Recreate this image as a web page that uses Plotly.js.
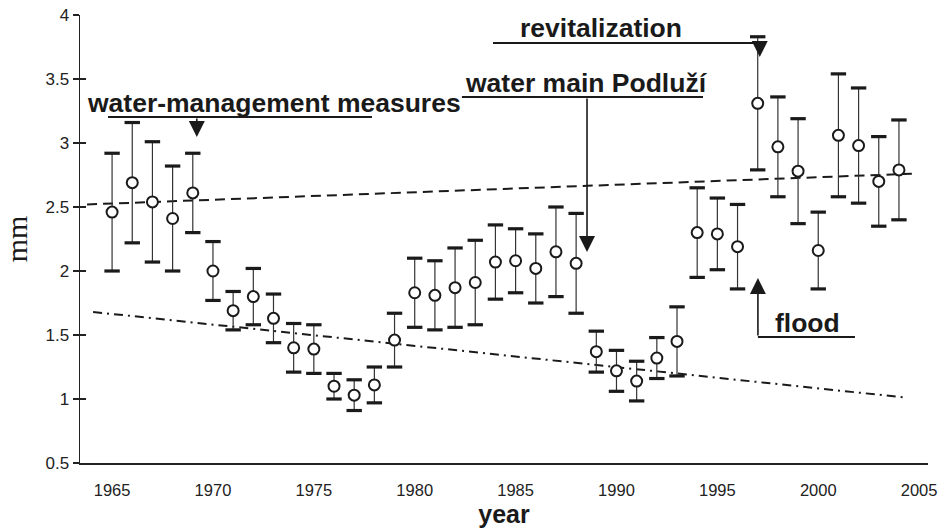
<!DOCTYPE html>
<html>
<head>
<meta charset="utf-8">
<script src="https://cdn.plot.ly/plotly-3.0.1.min.js"></script>
<style>html,body{margin:0;padding:0;background:#fff;}#chart{width:940px;height:530px;}</style>
</head>
<body>
<div id="chart"></div>
<script>
// ---- data ----
const years = [1965,1966,1967,1968,1969,1970,1971,1972,1973,1974,
               1975,1976,1977,1978,1979,1980,1981,1982,1983,1984,
               1985,1986,1987,1988,1989,1990,1991,1992,1993,1994,
               1995,1996,1997,1998,1999,2000,2001,2002,2003,2004];
const meanMM = [2.46,2.69,2.54,2.41,2.61,2.00,1.69,1.80,1.63,1.40,
                1.39,1.10,1.03,1.11,1.46,1.83,1.81,1.87,1.91,2.07,
                2.08,2.02,2.15,2.06,1.37,1.22,1.14,1.32,1.45,2.30,
                2.29,2.19,3.31,2.97,2.78,2.16,3.06,2.98,2.70,2.79];
const errMM  = [0.46,0.47,0.47,0.41,0.31,0.23,0.15,0.22,0.19,0.19,
                0.19,0.10,0.12,0.14,0.21,0.27,0.27,0.31,0.33,0.29,
                0.25,0.27,0.35,0.39,0.16,0.16,0.155,0.16,0.27,0.35,
                0.28,0.33,0.52,0.39,0.41,0.30,0.48,0.45,0.35,0.39];
// trend lines (end points)
const trendUpperX = [1963.76, 2004.64];
const trendUpperY = [2.52, 2.76];
const trendLowerX = [1964.06, 2004.4];
const trendLowerY = [1.68, 1.01];
// ticks
const xTickVals = [1965,1970,1975,1980,1985,1990,1995,2000,2005];
const yTickVals = [0.5,1,1.5,2,2.5,3,3.5,4];
const yTickText = ['0.5','1','1.5','2','2.5','3','3.5','4'];
// annotation texts
const labelMeasures = 'water-management measures';
const labelPodluzi = 'water main Podluží';
const labelRevital = 'revitalization';
const labelFlood = 'flood';

// ---- build figure ----
const ink = '#1a1a1a';
const capX = years.concat(years);
const capY = meanMM.map((v,i)=>v+errMM[i]).concat(meanMM.map((v,i)=>v-errMM[i]));

const traces = [
  {x: trendUpperX, y: trendUpperY, mode:'lines', line:{color:ink, width:2, dash:'10px,6px'}, hoverinfo:'skip', showlegend:false},
  {x: trendLowerX, y: trendLowerY, mode:'lines', line:{color:ink, width:2, dash:'9px,5px,2px,5px'}, hoverinfo:'skip', showlegend:false},
  {x: years, y: meanMM, mode:'markers',
   marker:{symbol:'circle', size:11, color:'#ffffff', line:{color:ink, width:2}},
   error_y:{type:'data', array: errMM, visible:true, thickness:1.2, width:0, color:'#333'},
   showlegend:false},
  {x: capX, y: capY, mode:'markers', yaxis:'y2',
   marker:{symbol:'line-ew', size:11, line:{color:ink, width:3.2}},
   hoverinfo:'skip', showlegend:false}
];

const arrowStyle = {showarrow:true, text:'', axref:'x', ayref:'y', arrowhead:2, arrowsize:2, arrowwidth:1.6, arrowcolor:ink};
const txtFont = {family:'Liberation Sans, Arial, sans-serif', size:26.5, color:ink, weight:'bold'};

const layout = {
  width:940, height:530,
  margin:{l:80, r:12, t:15, b:67},
  paper_bgcolor:'#fff', plot_bgcolor:'#fff',
  showlegend:false,
  xaxis:{range:[1963.41, 2005.44], showgrid:false, zeroline:false, showline:true, linewidth:2, linecolor:'#222',
         ticks:'', tickvals:xTickVals, ticklabelstandoff:11,
         tickfont:{family:'Liberation Sans, Arial, sans-serif', size:16.5, color:'#222'},
         title:{text:'year', standoff:8, font:{family:'Liberation Sans, Arial, sans-serif', size:25, color:ink, weight:'bold'}}},
  yaxis:{range:[0.5, 4], showgrid:false, zeroline:false, showline:true, linewidth:1.5, linecolor:'#222',
         ticks:'outside', ticklen:6, tickwidth:1.3, tickcolor:'#222', tickvals:yTickVals, ticktext:yTickText,
         tickfont:{family:'Liberation Sans, Arial, sans-serif', size:17, color:'#222'},
         title:{text:'mm', standoff:14, font:{family:'Liberation Serif, Times New Roman, serif', size:30, color:ink}}},
  yaxis2:{range:[0.5, 4], overlaying:'y', anchor:'x', side:'left', showgrid:false, zeroline:false, showline:false,
          ticks:'inside', ticklen:6, tickwidth:1.3, tickcolor:'#222', tickvals:yTickVals, showticklabels:false},
  shapes:[
    {type:'line', xref:'x', yref:'y', x0:1964.8, x1:1977.88, y0:3.203, y1:3.203, line:{color:ink, width:2}},
    {type:'line', xref:'x', yref:'y', x0:1982.34, x1:1994.29, y0:3.359, y1:3.359, line:{color:ink, width:2}},
    {type:'line', xref:'x', yref:'y', x0:1983.88, x1:1997.05, y0:3.781, y1:3.781, line:{color:ink, width:2}},
    {type:'line', xref:'x', yref:'y', x0:1997.01, x1:2001.82, y0:1.484, y1:1.484, line:{color:ink, width:2}}
  ],
  annotations:[
    {text:labelMeasures, x:1963.66, y:3.31, xref:'x', yref:'y', xanchor:'left', yanchor:'middle', showarrow:false, font:txtFont},
    {text:labelPodluzi, x:1982.39, y:3.47, xref:'x', yref:'y', xanchor:'left', yanchor:'middle', showarrow:false, font:txtFont},
    {text:labelRevital, x:1985.12, y:3.90, xref:'x', yref:'y', xanchor:'left', yanchor:'middle', showarrow:false, font:txtFont},
    {text:labelFlood, x:1997.76, y:1.594, xref:'x', yref:'y', xanchor:'left', yanchor:'middle', showarrow:false, font:txtFont},
    Object.assign({x:1969.2, y:3.047, ax:1969.2, ay:3.203, xref:'x', yref:'y'}, arrowStyle),
    Object.assign({x:1988.54, y:2.148, ax:1988.54, ay:3.359, xref:'x', yref:'y'}, arrowStyle),
    Object.assign({x:1997.1, y:3.672, ax:1997.1, ay:3.781, xref:'x', yref:'y'}, arrowStyle),
    Object.assign({x:1997.01, y:1.945, ax:1997.01, ay:1.484, xref:'x', yref:'y'}, arrowStyle)
  ]
};

Plotly.newPlot('chart', traces, layout, {staticPlot:true, displayModeBar:false});
</script>
</body>
</html>
